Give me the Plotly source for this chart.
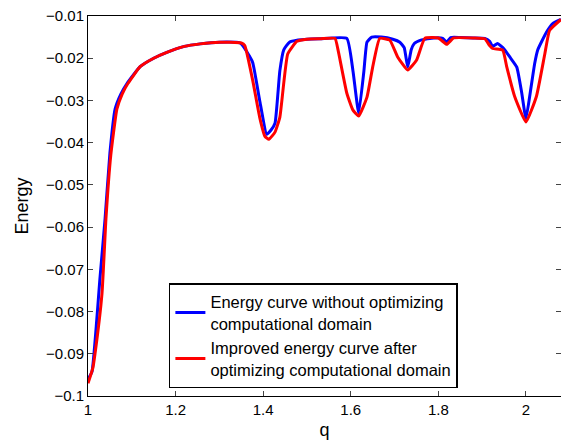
import plotly.graph_objects as go

q_blue = [1.000, 1.009, 1.020, 1.027, 1.039, 1.050, 1.062, 1.075, 1.089, 1.119, 1.150, 1.180,
          1.220, 1.256, 1.300, 1.347, 1.360, 1.376, 1.392, 1.408, 1.418, 1.427, 1.438, 1.447,
          1.460, 1.480, 1.500, 1.530, 1.591, 1.605, 1.618, 1.630, 1.637, 1.648, 1.670, 1.696,
          1.712, 1.722, 1.730, 1.738, 1.745, 1.760, 1.790, 1.810, 1.819, 1.828, 1.850, 1.880,
          1.906, 1.917, 1.924, 1.935, 1.950, 1.963, 1.979, 1.990, 2.000, 2.010, 2.020, 2.027,
          2.047, 2.061, 2.080]
e_blue = [-0.0960, -0.0943, -0.0820, -0.0725, -0.0580, -0.0425, -0.0320, -0.0285, -0.0260, -0.0220, -0.0200, -0.0186,
          -0.0172, -0.0166, -0.0162, -0.0164, -0.0180, -0.0210, -0.0300, -0.0380, -0.0370, -0.0354, -0.0230, -0.0180,
          -0.0162, -0.0157, -0.0155, -0.0154, -0.0153, -0.0230, -0.0330, -0.0230, -0.0162, -0.0150, -0.0150, -0.0155,
          -0.0162, -0.0175, -0.0221, -0.0180, -0.0165, -0.0157, -0.0152, -0.0153, -0.0162, -0.0151, -0.0151, -0.0152,
          -0.0153, -0.0160, -0.0172, -0.0165, -0.0178, -0.0197, -0.0221, -0.0280, -0.0343, -0.0280, -0.0212, -0.0180,
          -0.0138, -0.0118, -0.0108]

q_red = [1.000, 1.011, 1.016, 1.032, 1.041, 1.052, 1.066, 1.078, 1.091, 1.119, 1.150, 1.180,
         1.220, 1.256, 1.300, 1.350, 1.358, 1.376, 1.392, 1.404, 1.413, 1.427, 1.438, 1.456,
         1.477, 1.500, 1.530, 1.564, 1.571, 1.591, 1.605, 1.618, 1.637, 1.650, 1.666, 1.689,
         1.707, 1.730, 1.750, 1.769, 1.800, 1.819, 1.835, 1.880, 1.906, 1.917, 1.924, 1.947,
         1.956, 1.974, 2.000, 2.024, 2.043, 2.054, 2.080]
e_red = [-0.0970, -0.0934, -0.0900, -0.0757, -0.0580, -0.0430, -0.0320, -0.0285, -0.0260, -0.0220, -0.0200, -0.0186,
         -0.0172, -0.0166, -0.0162, -0.0164, -0.0170, -0.0252, -0.0340, -0.0385, -0.0392, -0.0375, -0.0340, -0.0190,
         -0.0160, -0.0155, -0.0154, -0.0153, -0.0181, -0.0283, -0.0323, -0.0337, -0.0292, -0.0221, -0.0153, -0.0157,
         -0.0197, -0.0228, -0.0205, -0.0153, -0.0152, -0.0167, -0.0152, -0.0152, -0.0154, -0.0170, -0.0177, -0.0181,
         -0.0220, -0.0290, -0.0351, -0.0290, -0.0190, -0.0134, -0.0108]

x_ticks = [1, 1.2, 1.4, 1.6, 1.8, 2]
y_ticks = [-0.01, -0.02, -0.03, -0.04, -0.05, -0.06, -0.07, -0.08, -0.09, -0.1]

font_family = "Liberation Sans, Arial, sans-serif"

fig = go.Figure()
fig.add_trace(go.Scatter(x=q_blue, y=e_blue, mode="lines",
                         line=dict(color="#0000ff", width=3, shape="spline", smoothing=0.4),
                         name="Energy curve without optimizing<br>computational domain"))
fig.add_trace(go.Scatter(x=q_red, y=e_red, mode="lines",
                         line=dict(color="#ff0000", width=3, shape="spline", smoothing=0.4),
                         name="Improved energy curve after<br>optimizing computational domain"))

fig.update_layout(
    width=561, height=443,
    margin=dict(l=88, r=0, t=16, b=47, autoexpand=False),
    paper_bgcolor="white", plot_bgcolor="white",
    font=dict(family=font_family, size=15, color="black"),
    showlegend=True,
    legend=dict(x=0.171, y=0.297, xanchor="left", yanchor="top",
                bgcolor="white", bordercolor="black", borderwidth=1.5,
                font=dict(size=16.5), tracegroupgap=3),
)
fig.update_xaxes(range=[1, 2.08], tickvals=x_ticks, ticks="inside", ticklen=5,
                 showline=True, linecolor="black", linewidth=1, mirror="ticks",
                 showgrid=False, zeroline=False,
                 title=dict(text="q", font=dict(size=18), standoff=6))
fig.update_yaxes(range=[-0.1, -0.01], tickvals=y_ticks, ticks="inside", ticklen=5,
                 showline=True, linecolor="black", linewidth=1, mirror="ticks",
                 showgrid=False, zeroline=False,
                 title=dict(text="Energy", font=dict(size=18), standoff=12))

fig.write_html("out.html", config={"displayModeBar": False},
               post_script="document.body.style.margin='0';document.body.style.overflow='hidden';")
